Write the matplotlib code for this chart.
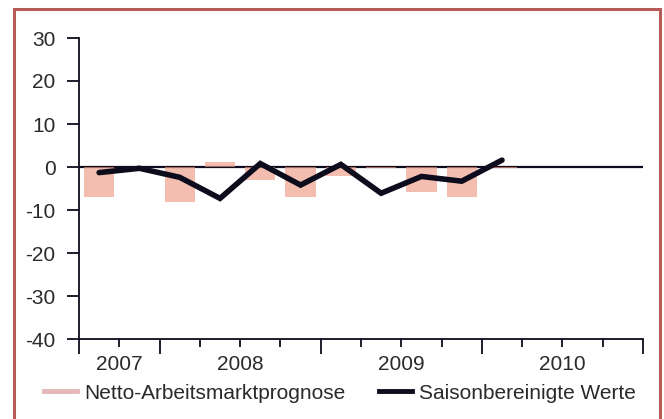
import matplotlib
matplotlib.use("Agg")
import matplotlib.pyplot as plt
from matplotlib.lines import Line2D
from matplotlib.patches import Rectangle

# quarters from Q3 2007 to Q4 2010
quarters = ["Q3 2007", "Q4 2007",
            "Q1 2008", "Q2 2008", "Q3 2008", "Q4 2008",
            "Q1 2009", "Q2 2009", "Q3 2009", "Q4 2009",
            "Q1 2010", "Q2 2010", "Q3 2010", "Q4 2010"]
netto = [-7.0, 0.0, -8.1, 1.1, -3.0, -7.0, -2.0, -0.2, -5.9, -7.0, -0.2]
saison = [-1.3, -0.3, -2.4, -7.3, 0.8, -4.2, 0.6, -6.1, -2.2, -3.3, 1.6]
years = ["2007", "2008", "2009", "2010"]
year_quarters = [2, 4, 4, 4]

dark = "#0c0c1c"
text_col = "#2a2a2a"
plt.rcParams["font.family"] = ["Liberation Sans", "DejaVu Sans"]
plt.rcParams["axes.unicode_minus"] = False

fig = plt.figure(figsize=(6.64, 4.19), dpi=100)
ax = fig.add_axes([79 / 664, 1 - 339 / 419, (643 - 79) / 664, (339 - 38) / 419])

n = len(quarters)
xb = [i + 0.5 for i in range(len(netto))]
xl = [i + 0.5 for i in range(len(saison))]

ax.axhline(0, color=dark, lw=1.6, zorder=1)
ax.bar(xb, netto, width=0.75, color="#ee9c85", alpha=0.65, zorder=2)
ax.plot(xl, saison, color=dark, lw=4.0, solid_capstyle="round",
        solid_joinstyle="miter", zorder=3)

ax.set_xlim(0, n)
ax.set_ylim(-40, 30)
ax.set_yticks(range(-40, 31, 10))
ax.tick_params(axis="y", direction="out", length=9, width=1.3, color=dark,
               labelsize=15, labelcolor=text_col, pad=8)

# year boundaries as long ticks, quarters as short ones
bounds = [0]
for q in year_quarters:
    bounds.append(bounds[-1] + q)
ax.set_xticks(bounds)
ax.set_xticklabels([])
ax.set_xticks(range(n + 1), minor=True)
ax.tick_params(axis="x", which="major", direction="out", length=10.5, width=1.3, color=dark)
ax.tick_params(axis="x", which="minor", direction="out", length=5.5, width=1.3, color=dark)

for k, yr in enumerate(years):
    c = (bounds[k] + bounds[k + 1]) / 2
    ax.text(c, -0.085, yr, transform=ax.get_xaxis_transform(), ha="center",
            va="center", fontsize=15, color=text_col)

for s in ["top", "right"]:
    ax.spines[s].set_visible(False)
for s in ["left", "bottom"]:
    ax.spines[s].set_color(dark)
    ax.spines[s].set_linewidth(1.3)

handles = [Line2D([], [], color="#e4b8b8", lw=3.5),
           Line2D([], [], color=dark, lw=3.5)]
fig.legend(handles, ["Netto-Arbeitsmarktprognose", "Saisonbereinigte Werte"],
           loc="center", bbox_to_anchor=(0.512, 1 - 393 / 419), ncol=2,
           frameon=False, fontsize=15, labelcolor=text_col,
           handlelength=1.6, handletextpad=0.35, columnspacing=1.6)

fig.patches.append(Rectangle((14 / 664, -0.05), (660 - 14) / 664, 1.05 - 9 / 419,
                             transform=fig.transFigure, fill=False,
                             edgecolor="#b75a5a", lw=2.2))

fig.savefig("out.png", dpi=100)
